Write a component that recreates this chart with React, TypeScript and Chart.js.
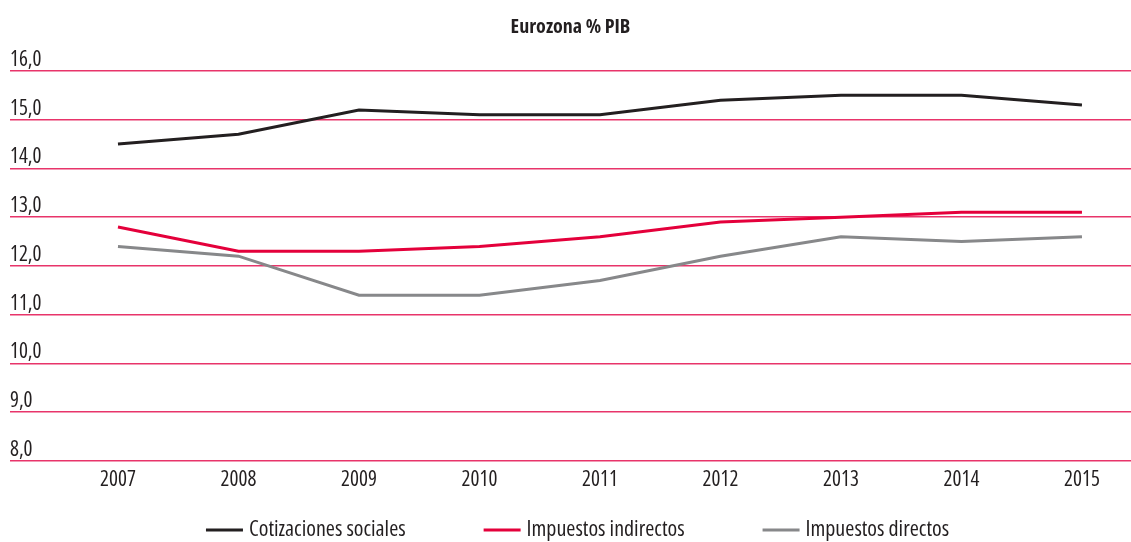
import React, { useEffect, useRef } from "react";
import { Chart, registerables } from "chart.js";

Chart.register(...registerables);

const FONT = '"Open Sans", "Roboto Condensed", sans-serif';
const STRETCH = "condensed";

const title = "Eurozona % PIB";
const years = [2007, 2008, 2009, 2010, 2011, 2012, 2013, 2014, 2015];
const seriesNames = ["Cotizaciones sociales", "Impuestos indirectos", "Impuestos directos"];
const cotizacionesSociales = [14.5, 14.7, 15.2, 15.1, 15.1, 15.4, 15.5, 15.5, 15.3];
const impuestosIndirectos = [12.8, 12.3, 12.3, 12.4, 12.6, 12.9, 13.0, 13.1, 13.1];
const impuestosDirectos = [12.4, 12.2, 11.4, 11.4, 11.7, 12.2, 12.6, 12.5, 12.6];
const yTicks = [8, 9, 10, 11, 12, 13, 14, 15, 16];
const colors = ["#231f20", "#e4003b", "#87888a"];

const bottomLegend = {
  id: "bottomLegend",
  afterDraw(chart: any) {
    const ctx = chart.ctx;
    ctx.save();
    ctx.font = `${STRETCH} 22px ${FONT}`;
    const sample = 37;
    const gapText = 6;
    const gapItem = 78;
    const items = chart.data.datasets.map((ds: any) => ({
      text: ds.label,
      color: ds.borderColor,
      w: ctx.measureText(ds.label).width,
    }));
    const total =
      items.reduce((s: number, it: any) => s + sample + gapText + it.w, 0) +
      gapItem * (items.length - 1);
    let x = (chart.chartArea.left + chart.chartArea.right) / 2 - total / 2 + 7;
    const y = chart.height - 12;
    ctx.textBaseline = "middle";
    ctx.textAlign = "left";
    for (const it of items) {
      ctx.strokeStyle = it.color;
      ctx.lineWidth = 3;
      ctx.beginPath();
      ctx.moveTo(x, y);
      ctx.lineTo(x + sample, y);
      ctx.stroke();
      x += sample + gapText;
      ctx.fillStyle = "#231f20";
      ctx.fillText(it.text, x, y);
      x += it.w + gapItem;
    }
    ctx.restore();
  },
};

export default function App() {
  const ref = useRef<HTMLCanvasElement | null>(null);

  useEffect(() => {
    document.body.style.margin = "0";
    if (!ref.current) return;
    const seriesData = [cotizacionesSociales, impuestosIndirectos, impuestosDirectos];
    const chart = new Chart(ref.current, {
      type: "line",
      data: {
        labels: years,
        datasets: seriesData.map((d, i) => ({
          label: seriesNames[i],
          data: d,
          borderColor: colors[i],
          backgroundColor: colors[i],
          borderWidth: 3,
          pointRadius: 0,
          tension: 0,
          fill: false,
        })),
      },
      options: {
        animation: false,
        responsive: true,
        maintainAspectRatio: false,
        layout: { padding: { left: 10, right: 0, top: 0, bottom: 42 } },
        plugins: {
          legend: { display: false },
          tooltip: { enabled: false },
          title: {
            display: true,
            text: title,
            color: "#231f20",
            font: { family: FONT, size: 20, weight: `bold ${STRETCH}` as any },
            padding: { top: 15, bottom: 32 },
          },
        },
        scales: {
          x: {
            type: "linear",
            min: years[0] - 0.896,
            max: years[years.length - 1] + 0.407,
            grid: { display: false, drawTicks: false },
            border: { display: false },
            afterBuildTicks: (scale: any) => {
              scale.ticks = years.map((v) => ({ value: v }));
            },
            ticks: {
              color: "#231f20",
              font: { family: FONT, size: 21, weight: STRETCH as any },
              padding: 7,
              maxRotation: 0,
              autoSkip: false,
              callback: (v: any) => String(v),
            },
          },
          y: {
            min: 8,
            max: 16,
            border: { display: false },
            grid: { color: "#e8346a", lineWidth: 1.5, drawTicks: false },
            afterBuildTicks: (scale: any) => {
              scale.ticks = yTicks.map((v) => ({ value: v }));
            },
            ticks: {
              mirror: true,
              padding: 0,
              labelOffset: -11,
              color: "#231f20",
              font: { family: FONT, size: 21, weight: STRETCH as any },
              callback: (v: any) => Number(v).toFixed(1).replace(".", ","),
            },
          },
        },
      },
      plugins: [bottomLegend],
    });
    return () => chart.destroy();
  }, []);

  return (
    <div style={{ position: "relative", width: 1131, height: 542 }}>
      <canvas ref={ref} />
    </div>
  );
}
